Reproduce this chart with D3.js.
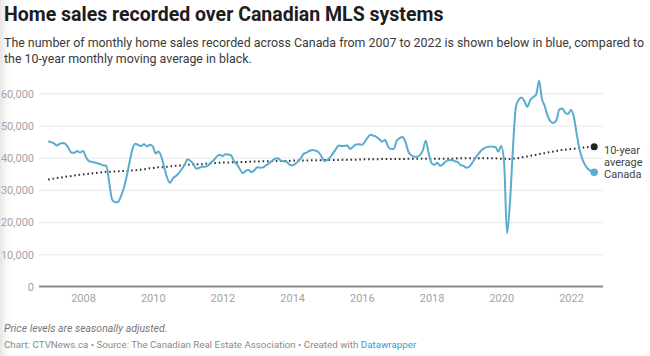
<!DOCTYPE html>
<html>
<head>
<meta charset="utf-8">
<script src="https://cdn.jsdelivr.net/npm/d3@7"></script>
<style>
  html, body { margin: 0; padding: 0; background: #fff; }
  svg { display: block; font-family: Roboto, "Noto Sans", sans-serif; }
</style>
</head>
<body>
<svg id="chart" width="650" height="356"></svg>
<script>
// ---- Data (thousands of monthly home sales, Jan 2007 – Sep 2022) ----
const startYear = 2007;
const sales2007 = [45.0,44.8,44.5,43.8,44.3,44.6,44.3,43.0,41.6,41.5,42.1,41.6];
const sales2008 = [42.1,40.2,39.0,38.7,38.5,38.3,38.0,37.6,37.6,32.5,27.0,26.2];
const sales2009 = [26.2,28.0,30.3,34.0,38.3,42.5,44.3,44.0,43.6,44.2,43.5,44.0];
const sales2010 = [43.5,41.3,41.9,40.3,37.0,33.8,32.2,33.6,34.3,35.2,36.5,37.8];
const sales2011 = [39.5,39.0,38.2,36.6,36.8,37.2,37.2,37.5,38.4,39.2,40.3,40.9];
const sales2012 = [40.5,41.1,41.0,40.7,38.9,37.9,36.5,35.2,35.9,36.2,35.5,36.1];
const sales2013 = [37.0,36.9,37.0,37.6,38.2,39.0,39.6,39.8,39.2,38.9,38.8,37.9];
const sales2014 = [37.6,38.1,38.7,39.8,41.2,41.6,42.1,42.4,42.2,41.8,40.6,39.0];
const sales2015 = [39.2,40.0,41.2,42.5,43.8,43.6,43.7,43.8,42.7,43.4,44.1,44.2];
const sales2016 = [44.0,44.9,46.2,47.1,46.8,46.5,45.8,45.0,45.5,43.5,42.7,42.7];
const sales2017 = [45.3,46.1,46.4,45.0,42.0,40.8,40.3,40.3,40.8,42.3,45.3,41.4];
const sales2018 = [38.3,37.8,38.4,37.5,38.0,38.9,39.2,39.3,38.9,38.7,37.7,37.5];
const sales2019 = [36.9,37.2,38.3,39.7,41.0,42.1,42.8,43.3,43.5,43.4,43.3,41.9];
const sales2020 = [43.6,38.0,16.5,26.0,42.0,55.5,58.0,58.7,57.5,55.8,58.0,58.8];
const sales2021 = [59.6,64.0,58.5,56.0,53.0,51.3,50.8,51.6,55.0,55.3,54.0,53.6];
const sales2022 = [54.8,52.5,47.5,42.5,39.5,37.6,36.4,35.8,35.5];

// 10-year monthly moving average (thousands)
const avg2007 = [33.2,33.4,33.5,33.7,33.8,33.9,34.1,34.2,34.3,34.5,34.6,34.7];
const avg2008 = [34.8,34.9,35.0,35.1,35.2,35.3,35.4,35.5,35.6,35.6,35.7,35.7];
const avg2009 = [35.8,35.8,35.9,35.9,36.0,36.0,36.1,36.2,36.3,36.4,36.5,36.7];
const avg2010 = [36.8,36.9,37.0,37.0,37.1,37.2,37.3,37.4,37.5,37.6,37.6,37.7];
const avg2011 = [37.8,37.8,37.9,37.9,38.0,38.0,38.1,38.2,38.3,38.3,38.4,38.4];
const avg2012 = [38.5,38.5,38.5,38.6,38.6,38.6,38.7,38.7,38.7,38.7,38.8,38.8];
const avg2013 = [38.8,38.8,38.9,38.9,38.9,38.9,39.0,39.0,39.0,39.0,39.0,39.0];
const avg2014 = [39.1,39.1,39.1,39.1,39.1,39.1,39.2,39.2,39.2,39.2,39.2,39.3];
const avg2015 = [39.3,39.3,39.3,39.3,39.3,39.4,39.4,39.4,39.4,39.4,39.4,39.4];
const avg2016 = [39.5,39.5,39.5,39.5,39.5,39.5,39.5,39.6,39.6,39.6,39.6,39.6];
const avg2017 = [39.6,39.6,39.6,39.6,39.7,39.7,39.7,39.7,39.7,39.7,39.7,39.7];
const avg2018 = [39.7,39.7,39.7,39.7,39.7,39.7,39.7,39.7,39.7,39.8,39.8,39.8];
const avg2019 = [39.8,39.8,39.8,39.8,39.8,39.8,39.8,39.8,39.8,39.8,39.8,39.7];
const avg2020 = [39.7,39.7,39.6,39.6,39.7,39.8,39.9,40.1,40.3,40.4,40.6,40.7];
const avg2021 = [40.9,41.1,41.3,41.4,41.6,41.8,41.9,42.1,42.3,42.4,42.5,42.6];
const avg2022 = [42.7,42.8,42.9,43.0,43.1,43.2,43.3,43.3,43.4];

const yTicks = [0, 10000, 20000, 30000, 40000, 50000, 60000];
const xTickYears = [2008, 2010, 2012, 2014, 2016, 2018, 2020, 2022];

const title = "Home sales recorded over Canadian MLS systems";
const subtitleLines = [
  "The number of monthly home sales recorded across Canada from 2007 to 2022 is shown below in blue, compared to",
  "the 10-year monthly moving average in black."
];
const noteText = "Price levels are seasonally adjusted.";
const creditText = "Chart: CTVNews.ca \u2022 Source: The Canadian Real Estate Association \u2022 Created with ";
const creditLink = "Datawrapper";

// ---- Build series ----
const salesAll = [].concat(sales2007, sales2008, sales2009, sales2010, sales2011, sales2012, sales2013,
  sales2014, sales2015, sales2016, sales2017, sales2018, sales2019, sales2020, sales2021, sales2022);
const avgAll = [].concat(avg2007, avg2008, avg2009, avg2010, avg2011, avg2012, avg2013,
  avg2014, avg2015, avg2016, avg2017, avg2018, avg2019, avg2020, avg2021, avg2022);
const monthDate = i => new Date(startYear + Math.floor(i / 12), i % 12, 1);
const sales = salesAll.map((v, i) => ({ date: monthDate(i), value: v * 1000 }));
const avg = avgAll.map((v, i) => ({ date: monthDate(i), value: v * 1000 }));

// ---- Layout ----
const svg = d3.select("#chart");
const plotLeft = 39, plotRight = 603, plotTop = 93.3, plotBottom = 286.5;

const x = d3.scaleTime()
  .domain([new Date(2008, 0, 1), new Date(2022, 0, 1)])
  .range([83, 571]);
const y = d3.scaleLinear().domain([0, 60000]).range([plotBottom, plotTop]);

// subtle left-edge shading like the screenshot
const defs = svg.append("defs");
const grad = defs.append("linearGradient").attr("id", "edge").attr("x1", 0).attr("x2", 1);
grad.append("stop").attr("offset", 0).attr("stop-color", "#e6e6e6");
grad.append("stop").attr("offset", 1).attr("stop-color", "#ffffff").attr("stop-opacity", 0);
svg.append("rect").attr("x", 0).attr("y", 0).attr("width", 14).attr("height", 356).attr("fill", "url(#edge)");

// Title & subtitle
svg.append("text").attr("x", 4).attr("y", 21)
  .attr("font-size", 19.5).attr("font-weight", 700).attr("fill", "#1d1d1d")
  .text(title);
svg.append("g").selectAll("text").data(subtitleLines).join("text")
  .attr("x", 4).attr("y", (d, i) => 47 + i * 16)
  .attr("font-size", 12.4).attr("fill", "#3a3a3a")
  .text(d => d);

// Gridlines & y labels
const yAxis = d3.axisLeft(y).tickValues(yTicks).tickSize(0).tickFormat(d3.format(","));
const gy = svg.append("g").attr("transform", `translate(${plotLeft},0)`).call(yAxis);
gy.select(".domain").remove();
gy.selectAll(".tick text").attr("x", -5).attr("fill", "#a3a3a3").attr("font-size", 11)
  .attr("font-family", "Roboto, sans-serif").attr("dy", "0.34em");
gy.selectAll(".tick").filter(d => d > 0).append("line")
  .attr("x1", 0).attr("x2", plotRight - plotLeft)
  .attr("stroke", "#e8e8e8").attr("stroke-width", 1);

// X axis
const xAxis = d3.axisBottom(x)
  .tickValues(xTickYears.map(yr => new Date(yr, 0, 1)))
  .tickSize(0).tickFormat(d3.timeFormat("%Y"));
const gx = svg.append("g").attr("transform", `translate(0,${plotBottom})`).call(xAxis);
gx.select(".domain").remove();
gx.selectAll(".tick text").attr("y", 8).attr("dy", "0.71em").attr("fill", "#a3a3a3")
  .attr("font-size", 11).attr("font-family", "Roboto, sans-serif");
svg.append("line").attr("x1", plotLeft).attr("x2", plotRight)
  .attr("y1", y(0)).attr("y2", y(0)).attr("stroke", "#8a8a8a").attr("stroke-width", 2);

// Lines
const line = d3.line().x(d => x(d.date)).y(d => y(d.value)).curve(d3.curveMonotoneX);
svg.append("path").datum(avg).attr("d", line)
  .attr("fill", "none").attr("stroke", "#333").attr("stroke-width", 2)
  .attr("stroke-dasharray", "1.6,2.8").attr("stroke-linecap", "butt");
svg.append("path").datum(sales).attr("d", line)
  .attr("fill", "none").attr("stroke", "#5aaccf").attr("stroke-width", 2)
  .attr("stroke-linejoin", "round");

// End dots
const lastAvg = avg[avg.length - 1], lastSales = sales[sales.length - 1];
svg.append("circle").attr("cx", x(lastAvg.date)).attr("cy", y(lastAvg.value)).attr("r", 3.5).attr("fill", "#222");
svg.append("circle").attr("cx", x(lastSales.date)).attr("cy", y(lastSales.value)).attr("r", 3.8).attr("fill", "#5aaccf");

// End labels
const lblX = plotRight + 1;
const labels = svg.append("g").attr("font-size", 11).attr("fill", "#444");
labels.append("text").attr("x", lblX).attr("y", y(lastAvg.value) + 7).text("10-year");
labels.append("text").attr("x", lblX).attr("y", y(lastAvg.value) + 19).text("average");
labels.append("text").attr("x", lblX).attr("y", y(lastSales.value) + 6).text("Canada");

// Footer
svg.append("text").attr("x", 4).attr("y", 331.5).attr("font-size", 10.5)
  .attr("font-style", "italic").attr("fill", "#777").text(noteText);
const credit = svg.append("text").attr("x", 4).attr("y", 348).attr("font-size", 9.75).attr("fill", "#8a8a8a");
credit.append("tspan").text(creditText);
credit.append("tspan").attr("fill", "#3a9bc7").text(creditLink);
</script>
</body>
</html>
